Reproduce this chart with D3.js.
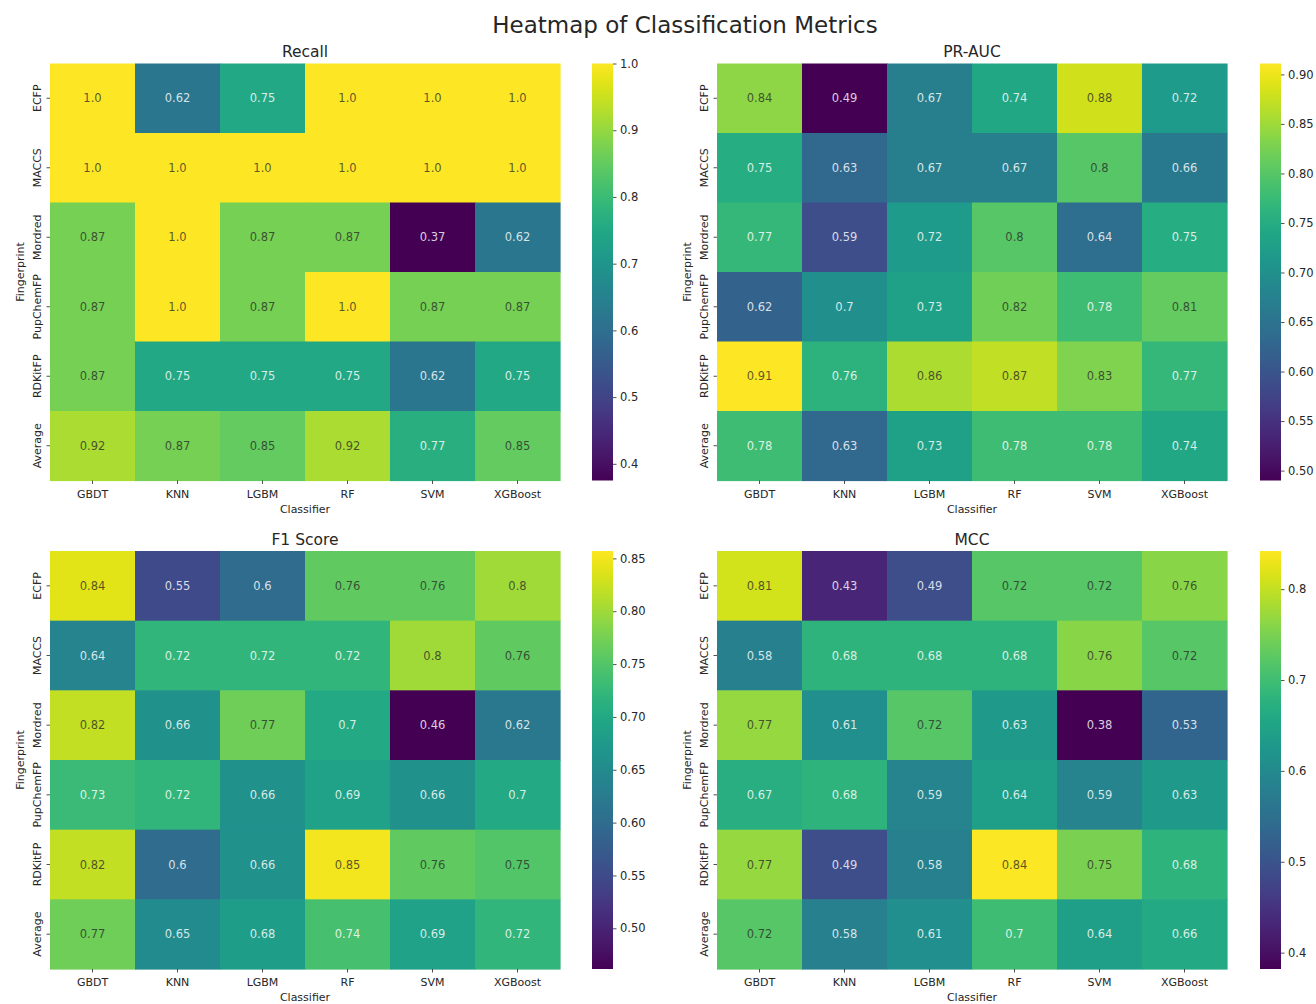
<!DOCTYPE html>
<html>
<head>
<meta charset="utf-8">
<title>Heatmap of Classification Metrics</title>
<script src="https://cdn.jsdelivr.net/npm/d3@7"></script>
<style>
  html, body { margin: 0; padding: 0; background: #ffffff; }
  svg { display: block; font-family: "DejaVu Sans", sans-serif; }
</style>
</head>
<body>
<svg id="chart" width="1316" height="1004"></svg>
<script>
// Categories
const classifiers = ["GBDT", "KNN", "LGBM", "RF", "SVM", "XGBoost"];
const fingerprints = ["ECFP", "MACCS", "Mordred", "PupChemFP", "RDKitFP", "Average"];

// Metric values, one row per fingerprint, one column per classifier
const recallValues = [
  [1.0, 0.62, 0.75, 1.0, 1.0, 1.0],
  [1.0, 1.0, 1.0, 1.0, 1.0, 1.0],
  [0.87, 1.0, 0.87, 0.87, 0.37, 0.62],
  [0.87, 1.0, 0.87, 1.0, 0.87, 0.87],
  [0.87, 0.75, 0.75, 0.75, 0.62, 0.75],
  [0.92, 0.87, 0.85, 0.92, 0.77, 0.85]
];
const prAucValues = [
  [0.84, 0.49, 0.67, 0.74, 0.88, 0.72],
  [0.75, 0.63, 0.67, 0.67, 0.8, 0.66],
  [0.77, 0.59, 0.72, 0.8, 0.64, 0.75],
  [0.62, 0.7, 0.73, 0.82, 0.78, 0.81],
  [0.91, 0.76, 0.86, 0.87, 0.83, 0.77],
  [0.78, 0.63, 0.73, 0.78, 0.78, 0.74]
];
const f1Values = [
  [0.84, 0.55, 0.6, 0.76, 0.76, 0.8],
  [0.64, 0.72, 0.72, 0.72, 0.8, 0.76],
  [0.82, 0.66, 0.77, 0.7, 0.46, 0.62],
  [0.73, 0.72, 0.66, 0.69, 0.66, 0.7],
  [0.82, 0.6, 0.66, 0.85, 0.76, 0.75],
  [0.77, 0.65, 0.68, 0.74, 0.69, 0.72]
];
const mccValues = [
  [0.81, 0.43, 0.49, 0.72, 0.72, 0.76],
  [0.58, 0.68, 0.68, 0.68, 0.76, 0.72],
  [0.77, 0.61, 0.72, 0.63, 0.38, 0.53],
  [0.67, 0.68, 0.59, 0.64, 0.59, 0.63],
  [0.77, 0.49, 0.58, 0.84, 0.75, 0.68],
  [0.72, 0.58, 0.61, 0.7, 0.64, 0.66]
];

// Colour limits of each colour bar
const recallLimits = [0.375, 1.0];
const prAucLimits = [0.49, 0.911];
const f1Limits = [0.4615, 0.857];
const mccLimits = [0.382, 0.842];

// Colour bar tick labels
const recallTicks = [0.4, 0.5, 0.6, 0.7, 0.8, 0.9, 1.0];
const prAucTicks = [0.50, 0.55, 0.60, 0.65, 0.70, 0.75, 0.80, 0.85, 0.90];
const f1Ticks = [0.50, 0.55, 0.60, 0.65, 0.70, 0.75, 0.80, 0.85];
const mccTicks = [0.4, 0.5, 0.6, 0.7, 0.8];

const panels = [
  { title: "Recall", values: recallValues, limits: recallLimits, ticks: recallTicks, fmt: ".1f",
    x0: 50, x1: 560, y0: 63.5, y1: 480.5, cbx: 592 },
  { title: "PR-AUC", values: prAucValues, limits: prAucLimits, ticks: prAucTicks, fmt: ".2f",
    x0: 717, x1: 1227, y0: 63.5, y1: 480.5, cbx: 1260 },
  { title: "F1 Score", values: f1Values, limits: f1Limits, ticks: f1Ticks, fmt: ".2f",
    x0: 50, x1: 560, y0: 551, y1: 969, cbx: 592 },
  { title: "MCC", values: mccValues, limits: mccLimits, ticks: mccTicks, fmt: ".1f",
    x0: 717, x1: 1227, y0: 551, y1: 969, cbx: 1260 }
];

const svg = d3.select("#chart");
const textColor = "#262626";
const defs = svg.append("defs");

svg.append("text")
  .attr("x", 685).attr("y", 33)
  .attr("text-anchor", "middle")
  .attr("font-size", 23)
  .attr("fill", textColor)
  .text("Heatmap of Classification Metrics");

// Annotation label like Python's str(): 1 -> "1.0", 0.8 -> "0.8"
function label(v) {
  const s = String(v);
  return s.includes(".") ? s : s + ".0";
}

// Relative luminance of a colour, used to pick light or dark annotation text
function luminance(c) {
  const rgb = d3.rgb(c);
  const lin = [rgb.r, rgb.g, rgb.b].map(v => {
    v /= 255;
    return v <= 0.03928 ? v / 12.92 : Math.pow((v + 0.055) / 1.055, 2.4);
  });
  return 0.2126 * lin[0] + 0.7152 * lin[1] + 0.0722 * lin[2];
}

panels.forEach((p, pi) => {
  const x = d3.scaleBand().domain(classifiers).range([p.x0, p.x1]).padding(0);
  const y = d3.scaleBand().domain(fingerprints).range([p.y0, p.y1]).padding(0);
  const color = d3.scaleSequential(d3.interpolateViridis).domain(p.limits).clamp(true);

  const cells = [];
  p.values.forEach((row, ri) => row.forEach((v, ci) => {
    cells.push({ fp: fingerprints[ri], cl: classifiers[ci], v });
  }));

  const g = svg.append("g");

  g.selectAll("rect.cell").data(cells).join("rect")
    .attr("class", "cell")
    .attr("x", d => x(d.cl))
    .attr("y", d => y(d.fp))
    .attr("width", x.bandwidth() + 0.6)
    .attr("height", y.bandwidth() + 0.6)
    .attr("fill", d => color(d.v));

  g.selectAll("text.annot").data(cells).join("text")
    .attr("class", "annot")
    .attr("x", d => x(d.cl) + x.bandwidth() / 2)
    .attr("y", d => y(d.fp) + y.bandwidth() / 2)
    .attr("dy", "0.36em")
    .attr("text-anchor", "middle")
    .attr("font-size", 11.5)
    .attr("fill", d => luminance(color(d.v)) > 0.408 ? textColor : "#ffffff")
    .attr("fill-opacity", d => luminance(color(d.v)) > 0.408 ? 0.75 : 0.82)
    .text(d => label(d.v));

  // x axis
  const xAxis = g.append("g")
    .attr("transform", `translate(0,${p.y1})`)
    .call(d3.axisBottom(x).tickSize(3.5).tickPadding(3.5));
  xAxis.select(".domain").remove();
  xAxis.selectAll(".tick line").attr("stroke", textColor).attr("stroke-width", 0.8);
  xAxis.selectAll(".tick text")
    .attr("font-family", "DejaVu Sans, sans-serif")
    .attr("font-size", 11).attr("fill", textColor)
    .attr("y", 17).attr("dy", 0);

  // y axis with rotated labels
  const yAxis = g.append("g")
    .attr("transform", `translate(${p.x0},0)`)
    .call(d3.axisLeft(y).tickSize(3.5).tickPadding(3.5));
  yAxis.select(".domain").remove();
  yAxis.selectAll(".tick line").attr("stroke", textColor).attr("stroke-width", 0.8);
  yAxis.selectAll(".tick text")
    .attr("font-family", "DejaVu Sans, sans-serif")
    .attr("font-size", 11).attr("fill", textColor)
    .attr("transform", "rotate(-90)")
    .attr("x", 0).attr("y", -9).attr("dy", 0)
    .attr("text-anchor", "middle");

  // axis titles
  g.append("text")
    .attr("x", (p.x0 + p.x1) / 2).attr("y", p.y1 + 32)
    .attr("text-anchor", "middle")
    .attr("font-size", 11).attr("fill", textColor)
    .text("Classifier");
  g.append("text")
    .attr("transform", `translate(${p.x0 - 26},${(p.y0 + p.y1) / 2}) rotate(-90)`)
    .attr("text-anchor", "middle")
    .attr("font-size", 11).attr("fill", textColor)
    .text("Fingerprint");

  // panel title
  g.append("text")
    .attr("x", (p.x0 + p.x1) / 2).attr("y", p.y0 - 6.5)
    .attr("text-anchor", "middle")
    .attr("font-size", 15.5).attr("fill", textColor)
    .text(p.title);

  // colour bar
  const gradId = "grad" + pi;
  const grad = defs.append("linearGradient")
    .attr("id", gradId)
    .attr("x1", 0).attr("y1", 1).attr("x2", 0).attr("y2", 0);
  d3.range(0, 1.0001, 0.02).forEach(t => {
    grad.append("stop")
      .attr("offset", t)
      .attr("stop-color", d3.interpolateViridis(t));
  });
  const cbw = 21;
  g.append("rect")
    .attr("x", p.cbx).attr("y", p.y0)
    .attr("width", cbw).attr("height", p.y1 - p.y0)
    .attr("fill", `url(#${gradId})`);

  const cbScale = d3.scaleLinear().domain(p.limits).range([p.y1, p.y0]);
  const cbAxis = g.append("g")
    .attr("transform", `translate(${p.cbx + cbw},0)`)
    .call(d3.axisRight(cbScale).tickValues(p.ticks).tickFormat(d3.format(p.fmt))
      .tickSize(3.5).tickPadding(3.5));
  cbAxis.select(".domain").remove();
  cbAxis.selectAll(".tick line").attr("stroke", textColor).attr("stroke-width", 0.8);
  cbAxis.selectAll(".tick text")
    .attr("font-family", "DejaVu Sans, sans-serif")
    .attr("font-size", 11.5).attr("fill", textColor);
});
</script>
</body>
</html>
